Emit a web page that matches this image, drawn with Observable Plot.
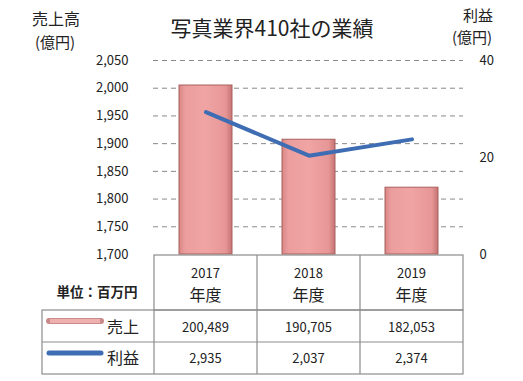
<!DOCTYPE html>
<html><head><meta charset="utf-8">
<script src="https://cdn.jsdelivr.net/npm/d3@7"></script>
<script src="https://cdn.jsdelivr.net/npm/@observablehq/plot@0.6"></script>
<style>body{margin:0;background:#fff;} #c svg{display:block;}</style>
</head><body><div id="c"></div>
<script>
const years = ["2017", "2018", "2019"];
const yearLabel = "年度";
const sales = [200489, 190705, 182053];   // 百万円
const profit = [2935, 2037, 2374];        // 百万円
const leftTicks = [1700, 1750, 1800, 1850, 1900, 1950, 2000, 2050];
const rightTicks = [0, 20, 40];
const title = "写真業界410社の業績";
const unitLabel = "単位：百万円";
const seriesNames = ["売上", "利益"];

const L0 = 1700, L1 = 2050, R0 = 0, R1 = 40;
const toLeft = v => L0 + (v - R0) * (L1 - L0) / (R1 - R0);
const data = years.map((y, i) => ({year: y, sales: sales[i] / 100, profit: profit[i] / 100}));
const font = '"Noto Sans CJK JP", "Noto Sans", sans-serif';

const chart = Plot.plot({
  width: 523, height: 381,
  marginLeft: 153, marginRight: 60, marginTop: 60, marginBottom: 127,
  style: {fontFamily: font, fontSize: "13px", color: "#222", background: "#fff"},
  x: {domain: years, paddingInner: 0.49, paddingOuter: 0.245, axis: null},
  y: {domain: [L0, L1], axis: null},
  marks: [
    Plot.ruleY(leftTicks.filter(t => t > L0), {stroke: "#8a8a8a", strokeDasharray: "5,4", strokeWidth: 1}),
    Plot.barY(data, {x: "year", y1: L0, y2: "sales", fill: "url(#barGrad)", stroke: "#a8605f", strokeWidth: 1}),
    Plot.line(data, {x: "year", y: d => toLeft(d.profit), stroke: "#3f6db3", strokeWidth: 4, curve: "linear"}),
    Plot.axisY(leftTicks, {anchor: "left", label: null, tickSize: 0, tickPadding: 25, tickFormat: d3.format(","), fontSize: 13, fill: "#222"}),
    Plot.axisY(rightTicks.map(toLeft), {anchor: "right", label: null, tickSize: 0, tickPadding: 16, textAnchor: "start",
      tickFormat: v => String(Math.round(R0 + (v - L0) * (R1 - R0) / (L1 - L0))), fontSize: 13, fill: "#222"})
  ]
});
document.getElementById("c").appendChild(chart);

const svg = d3.select(chart);
const defs = svg.insert("defs", ":first-child");
const g = defs.append("linearGradient").attr("id", "barGrad").attr("x1", 0).attr("x2", 1).attr("y1", 0).attr("y2", 0);
[["0%", "#d98585"], ["12%", "#ec9e9e"], ["50%", "#f0a4a4"], ["88%", "#e79696"], ["100%", "#c57373"]]
  .forEach(([o, c]) => g.append("stop").attr("offset", o).attr("stop-color", c));

const xs = chart.scale("x");
const step = xs.step ?? (xs.bandwidth / (1 - 0.49));
const centers = years.map(y => xs.apply(y) + xs.bandwidth / 2);
const edges = [centers[0] - step / 2, ...centers.map(c => c + step / 2)];
const yT = 255, yH = 310, yR1 = 342, yR2 = 374, xL = 42;

const tbl = svg.append("g").attr("stroke", "#8c8c8c").attr("stroke-width", 1.2).attr("fill", "none");
tbl.append("rect").attr("x", edges[0]).attr("y", yT).attr("width", edges[3] - edges[0]).attr("height", yH - yT);
tbl.append("rect").attr("x", xL).attr("y", yH).attr("width", edges[3] - xL).attr("height", yR2 - yH);
tbl.append("line").attr("x1", xL).attr("x2", edges[3]).attr("y1", yR1).attr("y2", yR1);
edges.slice(1, 3).forEach(e => tbl.append("line").attr("x1", e).attr("x2", e).attr("y1", yT).attr("y2", yR2));
tbl.append("line").attr("x1", edges[0]).attr("x2", edges[0]).attr("y1", yH).attr("y2", yR2);

const txt = svg.append("g").attr("font-family", font).attr("fill", "#222").attr("text-anchor", "middle");
centers.forEach((c, i) => {
  txt.append("text").attr("x", c).attr("y", 278).attr("font-size", 13).text(years[i]);
  txt.append("text").attr("x", c).attr("y", 301).attr("font-size", 16).text(yearLabel);
  txt.append("text").attr("x", c).attr("y", 332).attr("font-size", 13).text(d3.format(",")(sales[i]));
  txt.append("text").attr("x", c).attr("y", 363).attr("font-size", 13).text(d3.format(",")(profit[i]));
});
txt.append("text").attr("x", 97).attr("y", 297).attr("font-size", 13.5).attr("font-weight", "bold").text(unitLabel);
txt.append("text").attr("x", 123).attr("y", 333).attr("font-size", 16).text(seriesNames[0]);
txt.append("text").attr("x", 123).attr("y", 364).attr("font-size", 16).text(seriesNames[1]);

// legend swatches
svg.append("line").attr("x1", 49).attr("x2", 101).attr("y1", 321).attr("y2", 321).attr("stroke", "#c98a8a").attr("stroke-width", 6).attr("stroke-linecap", "round");
svg.append("line").attr("x1", 50).attr("x2", 100).attr("y1", 321).attr("y2", 321).attr("stroke", "#efb0b0").attr("stroke-width", 4);
svg.append("line").attr("x1", 49).attr("x2", 101).attr("y1", 353).attr("y2", 353).attr("stroke", "#3f6db3").attr("stroke-width", 5).attr("stroke-linecap", "round");

// titles
txt.append("text").attr("x", 272).attr("y", 36).attr("font-size", 21).text(title);
txt.append("text").attr("x", 56).attr("y", 25).attr("font-size", 16).text("売上高");
txt.append("text").attr("x", 55).attr("y", 48).attr("font-size", 15).text("(億円)");
txt.append("text").attr("x", 478).attr("y", 21).attr("font-size", 15).text("利益");
txt.append("text").attr("x", 472).attr("y", 43).attr("font-size", 15).text("(億円)");
</script></body></html>
